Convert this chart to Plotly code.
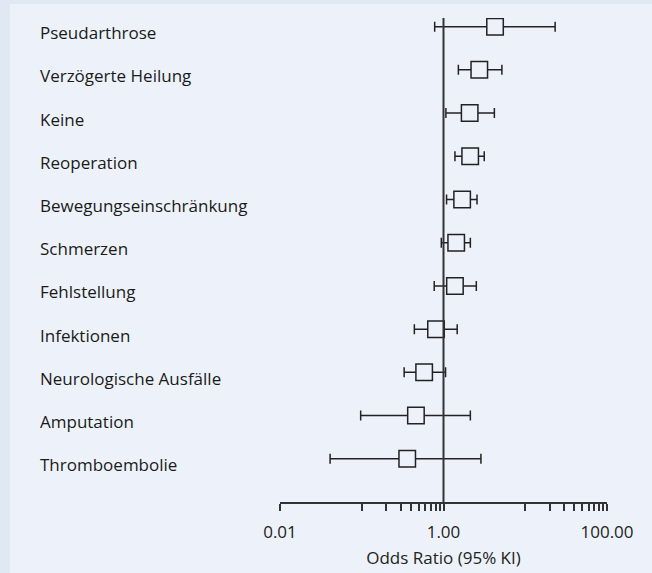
import plotly.graph_objects as go

# ---- data ----
categories = ["Pseudarthrose", "Verzögerte Heilung", "Keine", "Reoperation",
              "Bewegungseinschränkung", "Schmerzen", "Fehlstellung", "Infektionen",
              "Neurologische Ausfälle", "Amputation", "Thromboembolie"]
odds_ratio = [4.27, 2.74, 2.09, 2.12, 1.69, 1.43, 1.38, 0.81, 0.58, 0.46, 0.36]
ci_lower   = [0.78, 1.52, 1.07, 1.38, 1.09, 0.94, 0.77, 0.44, 0.33, 0.097, 0.041]
ci_upper   = [23.2, 5.18, 4.19, 3.15, 2.57, 2.13, 2.52, 1.47, 1.06, 2.13, 2.87]

tick_values = [0.01, 0.1, 0.2, 0.3, 0.4, 0.5, 0.6, 0.7, 0.8, 0.9, 1,
               10, 20, 30, 40, 50, 60, 70, 80, 90, 100]
tick_labels = ["0.01"] + [""] * 9 + ["1.00"] + [""] * 9 + ["100.00"]

# ---- style ----
BG = "#edf2fa"
BORDER = "#dfe8f3"
INK = "#222222"
FONT = "Open Sans"

n = len(categories)
ypos = [n - i for i in range(n)]

W, H = 652, 573
ML, MR, MT, MB = 280, 45, 18, 71
pw = W - ML - MR
ph = H - MT - MB

def px_to_paper_x(px):
    return (px - ML) / pw

def px_to_paper_y(py):
    return (H - MB - py) / ph

fig = go.Figure()
fig.add_trace(go.Scatter(
    x=odds_ratio, y=ypos, mode="markers",
    marker=dict(symbol="square", size=16.5, color=BG,
                line=dict(color=INK, width=1.5)),
    error_x=dict(type="data", symmetric=False,
                 array=[u - o for u, o in zip(ci_upper, odds_ratio)],
                 arrayminus=[o - l for o, l in zip(odds_ratio, ci_lower)],
                 color=INK, thickness=1.5, width=5),
    hoverinfo="skip", showlegend=False,
))

shapes = [
    # inner panel (darker strips remain at left and top)
    dict(type="rect", xref="paper", yref="paper", layer="below",
         x0=px_to_paper_x(10), x1=px_to_paper_x(W + 20),
         y0=px_to_paper_y(H + 20), y1=px_to_paper_y(4),
         fillcolor=BG, line=dict(width=0)),
    # reference line at OR = 1
    dict(type="line", xref="x", yref="paper", x0=1, x1=1, y0=0, y1=1,
         line=dict(color="#333333", width=2)),
]

annotations = [
    dict(text=c, xref="paper", yref="y", x=px_to_paper_x(38), y=yv,
         xanchor="left", yanchor="middle", yshift=-6, showarrow=False,
         font=dict(family=FONT, size=17, color="#1a1a1a"))
    for c, yv in zip(categories, ypos)
]

fig.update_layout(
    width=W, height=H,
    margin=dict(l=ML, r=MR, t=MT, b=MB, pad=0, autoexpand=False),
    paper_bgcolor=BORDER, plot_bgcolor=BG,
    font=dict(family=FONT, size=17, color=INK),
    shapes=shapes, annotations=annotations,
    xaxis=dict(type="log", range=[-2, 2], showgrid=False, zeroline=False,
               automargin=False,
               showline=True, linecolor="#333333", linewidth=1.5,
               ticks="outside", ticklen=7, tickwidth=1.5, tickcolor="#333333",
               tickvals=tick_values, ticktext=tick_labels, ticklabelstandoff=7,
               tickfont=dict(family=FONT, size=17, color=INK),
               title=dict(text="Odds Ratio (95% KI)", standoff=10,
                          font=dict(family=FONT, size=17, color=INK))),
    yaxis=dict(range=[0, 11.2], visible=False, automargin=False),
)

fig.write_html(
    "out.html",
    config={"displayModeBar": False},
    post_script="document.body.style.margin='0';document.body.style.padding='0';"
                "document.body.style.overflow='hidden';"
                "document.body.style.background='" + BORDER + "';",
)
